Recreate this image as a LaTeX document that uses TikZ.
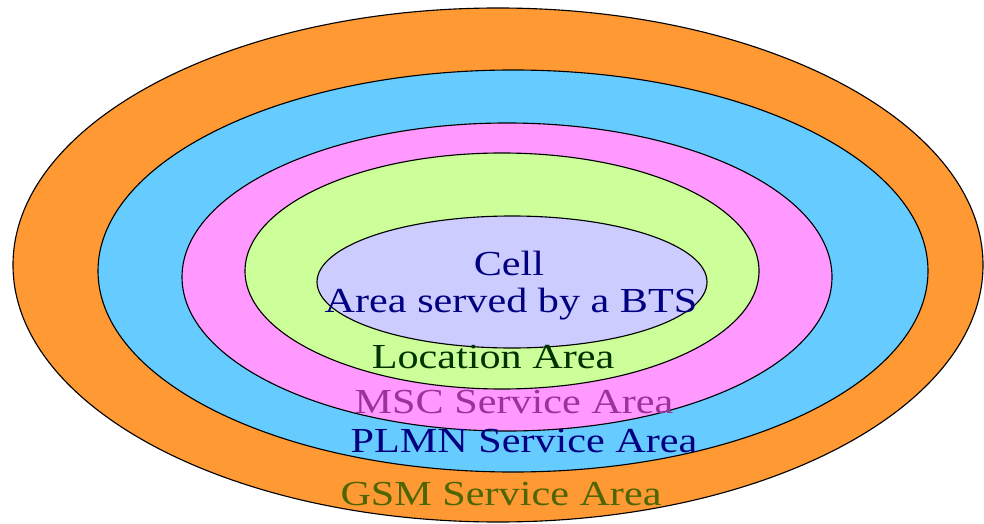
\documentclass[tikz,border=0pt]{standalone}
\usepackage{fontspec}
\setmainfont[FakeStretch=1.2]{Liberation Serif}
\usepackage{tikz}
\usepackage{xcolor}
\definecolor{gsmorange}{RGB}{255,153,51}
\definecolor{plmnblue}{RGB}{102,204,255}
\definecolor{mscpink}{RGB}{255,153,255}
\definecolor{lagreen}{RGB}{204,255,153}
\definecolor{celllilac}{RGB}{204,204,255}
\definecolor{textnavy}{RGB}{0,0,128}
\definecolor{textdark}{RGB}{0,51,0}
\definecolor{textpurple}{RGB}{153,51,153}
\definecolor{textolive}{RGB}{77,102,0}

\begin{document}
\begin{tikzpicture}[x=0.025cm,y=-0.025cm,
  zone/.style={draw=black,line width=0.8pt},
  lbl/.style={anchor=base,inner sep=0pt,font=\fontsize{25}{30}\selectfont}]
  \useasboundingbox (0,0) rectangle (984,524);
  \draw[zone,fill=gsmorange] (498,265) ellipse (485 and 257);
  \draw[zone,fill=plmnblue] (513,271) ellipse (415 and 201);
  \draw[zone,fill=mscpink] (507,277) ellipse (325 and 154);
  \draw[zone,fill=lagreen] (502,271) ellipse (257 and 118);
  \draw[zone,fill=celllilac] (512,282) ellipse (195 and 66);
  \node[lbl,text=textnavy] (cell) at (509,275) {Cell};
  \node[lbl,text=textnavy] (bts) at (511,312) {Area served by a BTS};
  \node[lbl,text=textdark] (la) at (493,368) {Location Area};
  \node[lbl,text=textpurple] (msc) at (514,413) {MSC Service Area};
  \node[lbl,text=textnavy] (plmn) at (524,452) {PLMN Service Area};
  \node[lbl,text=textolive] (gsm) at (501,505) {GSM Service Area};
\end{tikzpicture}
\end{document}
